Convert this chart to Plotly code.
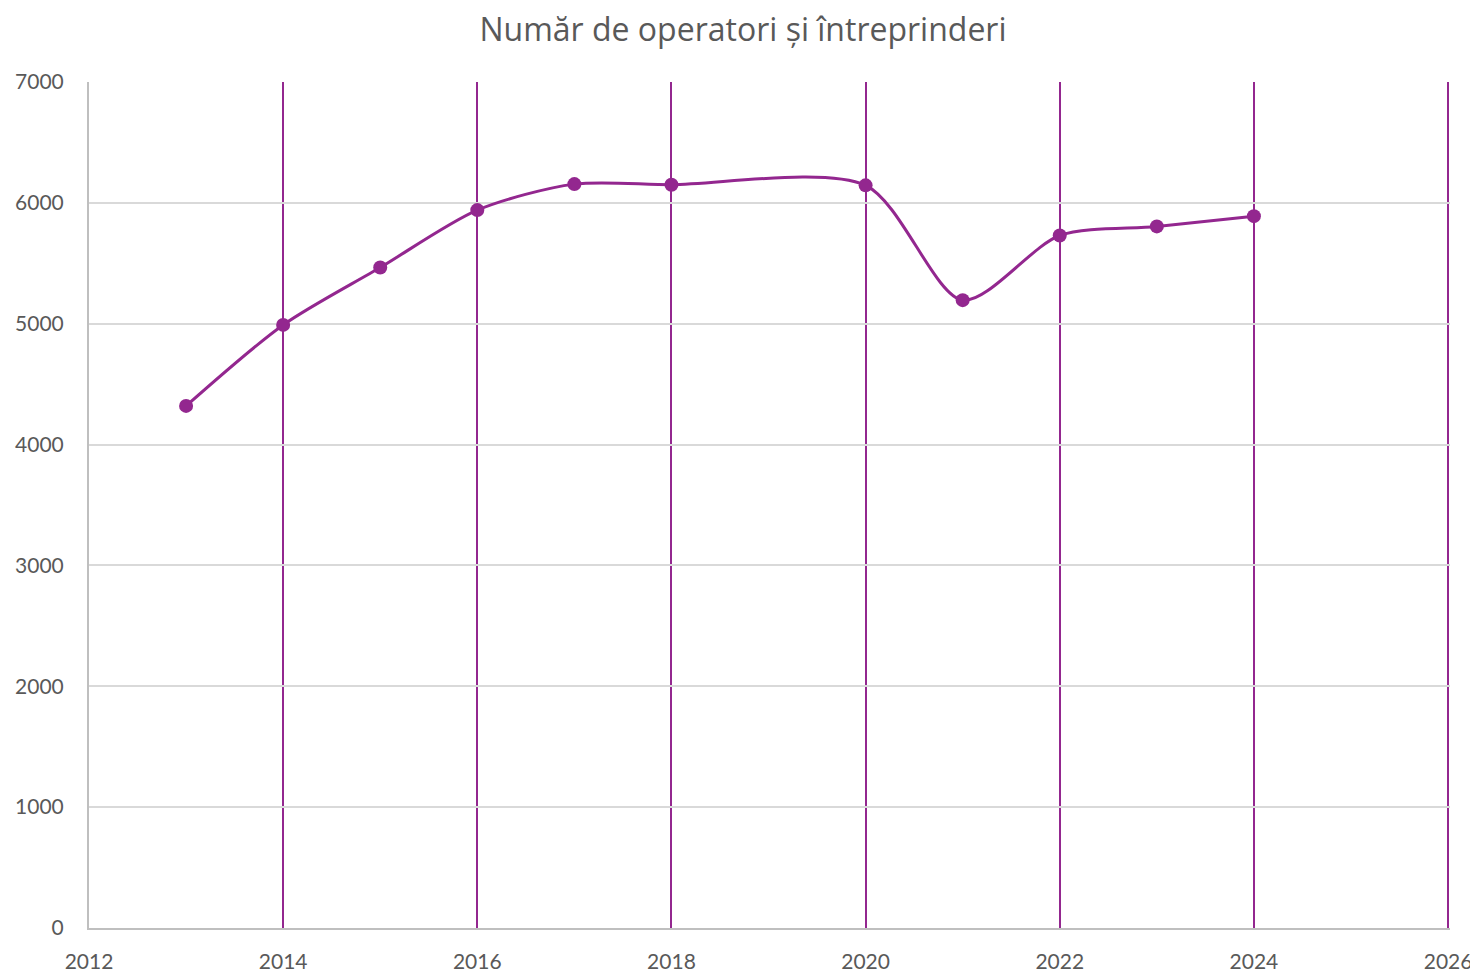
import plotly.graph_objects as go

years = [2013, 2014, 2015, 2016, 2017, 2018, 2020, 2021, 2022, 2023, 2024]
counts = [4320, 4990, 5465, 5940, 6155, 6150, 6145, 5195, 5730, 5805, 5890]

purple = "#93278F"
grey_text = "#595959"

fig = go.Figure()
fig.add_trace(go.Scatter(
    x=years, y=counts, mode="lines+markers",
    line=dict(color=purple, width=3, shape="spline", smoothing=0.8),
    marker=dict(color=purple, size=14),
    showlegend=False, cliponaxis=False,
))

fig.update_layout(
    width=1470, height=964,
    paper_bgcolor="white", plot_bgcolor="white",
    margin=dict(l=81, r=28, t=74, b=44, autoexpand=False),
    title=dict(text="Număr de operatori și întreprinderi", x=0.5, xanchor="center",
               y=0.977, yanchor="middle",
               font=dict(family="Open Sans", size=32, color=grey_text)),
    font=dict(family="Lato", color=grey_text, size=21),
    xaxis=dict(range=[2012, 2026.02], tickmode="linear", tick0=2012, dtick=2,
               showgrid=True, gridcolor=purple, gridwidth=1.8,
               showline=True, linecolor="#BFBFBF", linewidth=2,
               zeroline=False, ticks="", ticklabelstandoff=14, automargin=False),
    yaxis=dict(range=[0, 7000], tickmode="linear", tick0=0, dtick=1000,
               showgrid=True, gridcolor="#D9D9D9", gridwidth=1.5,
               showline=True, linecolor="#BFBFBF", linewidth=2,
               zeroline=False, ticks="", ticklabelstandoff=19, automargin=False),
)

fig.write_html("out.html")
